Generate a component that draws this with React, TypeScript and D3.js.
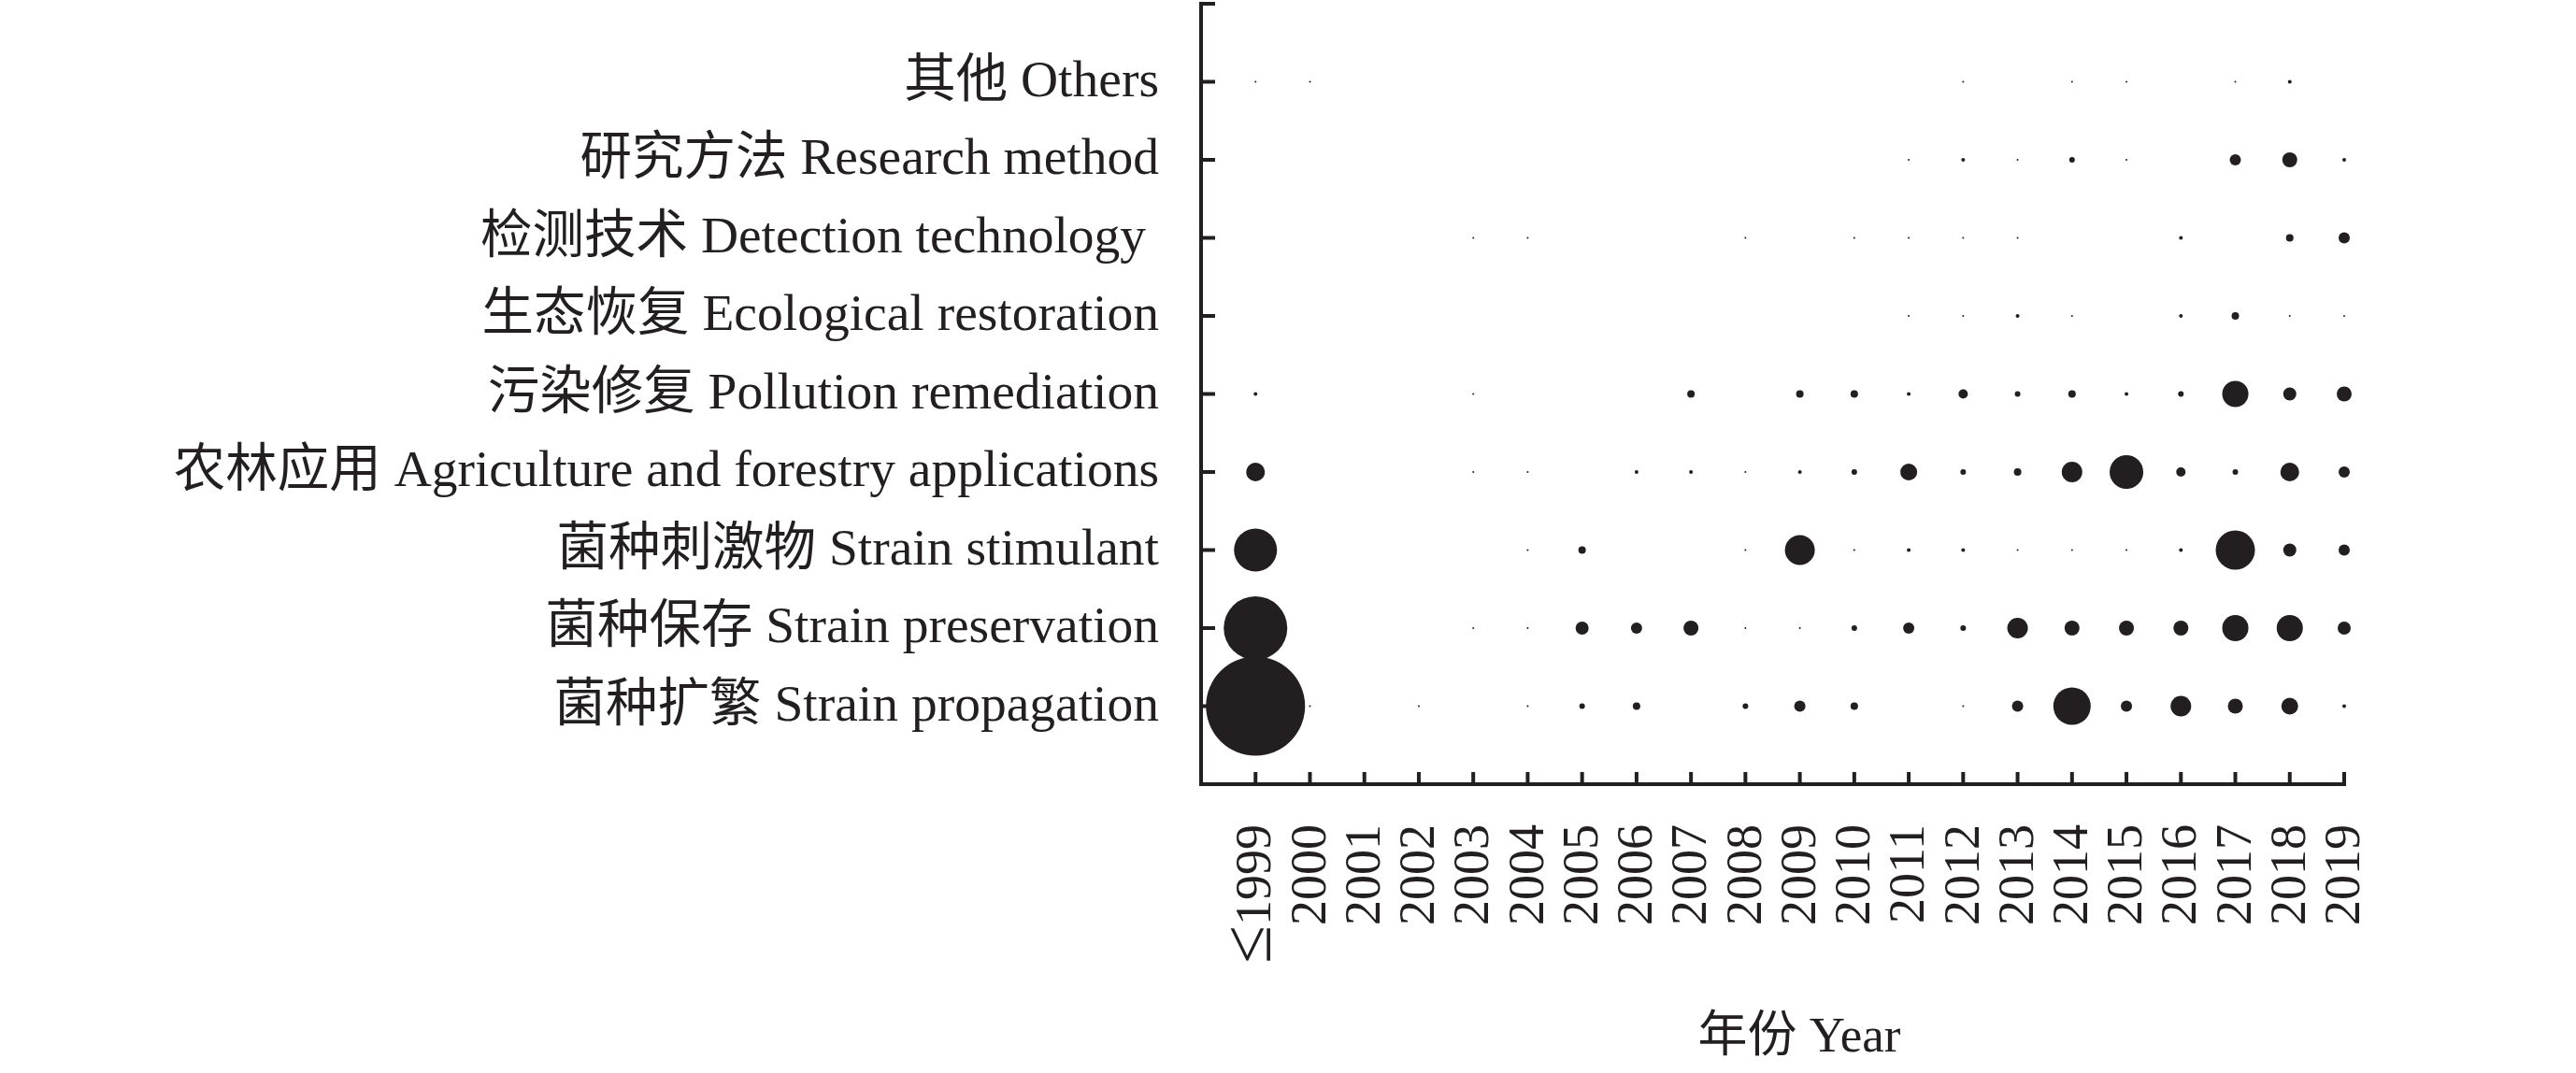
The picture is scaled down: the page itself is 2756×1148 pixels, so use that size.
import React from 'react';
import * as d3 from 'd3';

// categories, bottom to top (same order as the y axis rows)
const categories = [
  '菌种扩繁 Strain propagation',
  '菌种保存 Strain preservation',
  '菌种刺激物 Strain stimulant',
  '农林应用 Agriculture and forestry applications',
  '污染修复 Pollution remediation',
  '生态恢复 Ecological restoration',
  '检测技术 Detection technology ',
  '研究方法 Research method',
  '其他 Others',
];

const yearLabels = [
  '≤1999', '2000', '2001', '2002', '2003', '2004', '2005', '2006', '2007', '2008',
  '2009', '2010', '2011', '2012', '2013', '2014', '2015', '2016', '2017', '2018', '2019',
];

// number of papers per year
const propagation = [53, 1, 0, 1, 0, 1, 3, 4, 0, 3, 6, 4, 0, 1, 6, 20, 6, 11, 8, 9, 2];
const preservation = [34, 0, 0, 0, 1, 1, 7, 6, 8, 1, 1, 3, 6, 3, 11, 8, 8, 8, 14, 14, 7];
const stimulant = [23, 0, 0, 0, 0, 1, 4, 0, 0, 1, 16, 1, 2, 2, 1, 1, 1, 2, 21, 7, 6];
const agriculture = [10, 0, 0, 0, 1, 1, 0, 2, 2, 1, 2, 3, 9, 3, 4, 11, 18, 5, 3, 10, 6];
const pollution = [2, 0, 0, 0, 1, 0, 0, 0, 4, 0, 4, 4, 2, 5, 3, 4, 2, 3, 14, 7, 8];
const ecological = [0, 0, 0, 0, 0, 0, 0, 0, 0, 0, 0, 0, 1, 1, 2, 1, 0, 2, 4, 1, 1];
const detection = [0, 0, 0, 0, 1, 1, 0, 0, 0, 1, 0, 1, 1, 1, 1, 0, 0, 2, 0, 4, 6];
const research = [0, 0, 0, 0, 0, 0, 0, 0, 0, 0, 0, 0, 1, 2, 1, 3, 1, 0, 6, 8, 2];
const others = [1, 1, 0, 0, 0, 0, 0, 0, 0, 0, 0, 0, 0, 1, 0, 1, 1, 0, 1, 2, 0];

const series = [
  propagation, preservation, stimulant, agriculture, pollution,
  ecological, detection, research, others,
];

const W = 2756;
const H = 1148;
const INK = '#231f20';
const FONT = '"Liberation Serif", "Times New Roman", "Noto Sans CJK SC", serif';
const TICK_FS = 54;

export default function App() {
  const x = d3.scaleLinear().domain([0, yearLabels.length]).range([1285, 2508]);
  const y = d3.scaleLinear().domain([0, categories.length + 1]).range([839, 4]);
  const maxV = d3.max(series, s => d3.max(s)) ?? 1;
  const r = d3.scaleLinear().domain([0, maxV]).range([0, 53]);

  const points = series.flatMap((s, ci) =>
    s.map((v, yi) => ({ ci, yi, v })).filter(d => d.v > 0)
  );

  const x0 = x(0);
  const y0 = y(0);

  return (
    <div style={{ position: 'absolute', left: 0, top: 0 }}>
      <svg width={W} height={H} style={{ display: 'block', background: '#fff' }}>
        {/* bubbles */}
        {points.map((d, i) => (
          <circle key={i} cx={x(d.yi + 1)} cy={y(d.ci + 1)} r={r(d.v)} fill={INK} />
        ))}

        {/* y axis */}
        <line x1={x0} x2={x0} y1={y(categories.length + 1) - 2} y2={y0 + 2} stroke={INK} strokeWidth={4} />
        <line x1={x0} x2={x0 + 15} y1={y(categories.length + 1)} y2={y(categories.length + 1)} stroke={INK} strokeWidth={4} />
        {categories.map((c, i) => (
          <g key={c}>
            <line x1={x0} x2={x0 + 15} y1={y(i + 1)} y2={y(i + 1)} stroke={INK} strokeWidth={4} />
            <text
              x={1240}
              y={y(i + 1) + 15}
              textAnchor="end"
              fontFamily={FONT}
              fontSize={55.5}
              fill={INK}
              style={{ whiteSpace: 'pre' }}
            >
              {c}
            </text>
          </g>
        ))}

        {/* x axis */}
        <line x1={x0 - 2} x2={x(yearLabels.length) + 2} y1={y0} y2={y0} stroke={INK} strokeWidth={4} />
        {yearLabels.map((lab, i) => (
          <g key={lab}>
            <line x1={x(i + 1)} x2={x(i + 1)} y1={y0} y2={y0 - 13} stroke={INK} strokeWidth={4} />
            <text
              transform={`translate(${x(i + 1)},882) rotate(-90)`}
              textAnchor="end"
              fontFamily={FONT}
              fontSize={TICK_FS}
              fill={INK}
            >
              {lab.startsWith('≤') ? (
                <>
                  <tspan fontSize={74} dy={TICK_FS * 0.3}>≤</tspan>
                  <tspan>{lab.slice(1)}</tspan>
                </>
              ) : (
                <tspan dy={TICK_FS * 0.3}>{lab}</tspan>
              )}
            </text>
          </g>
        ))}

        <text x={1925} y={1125} textAnchor="middle" fontFamily={FONT} fontSize={53} fill={INK}>
          年份 Year
        </text>
      </svg>
    </div>
  );
}
